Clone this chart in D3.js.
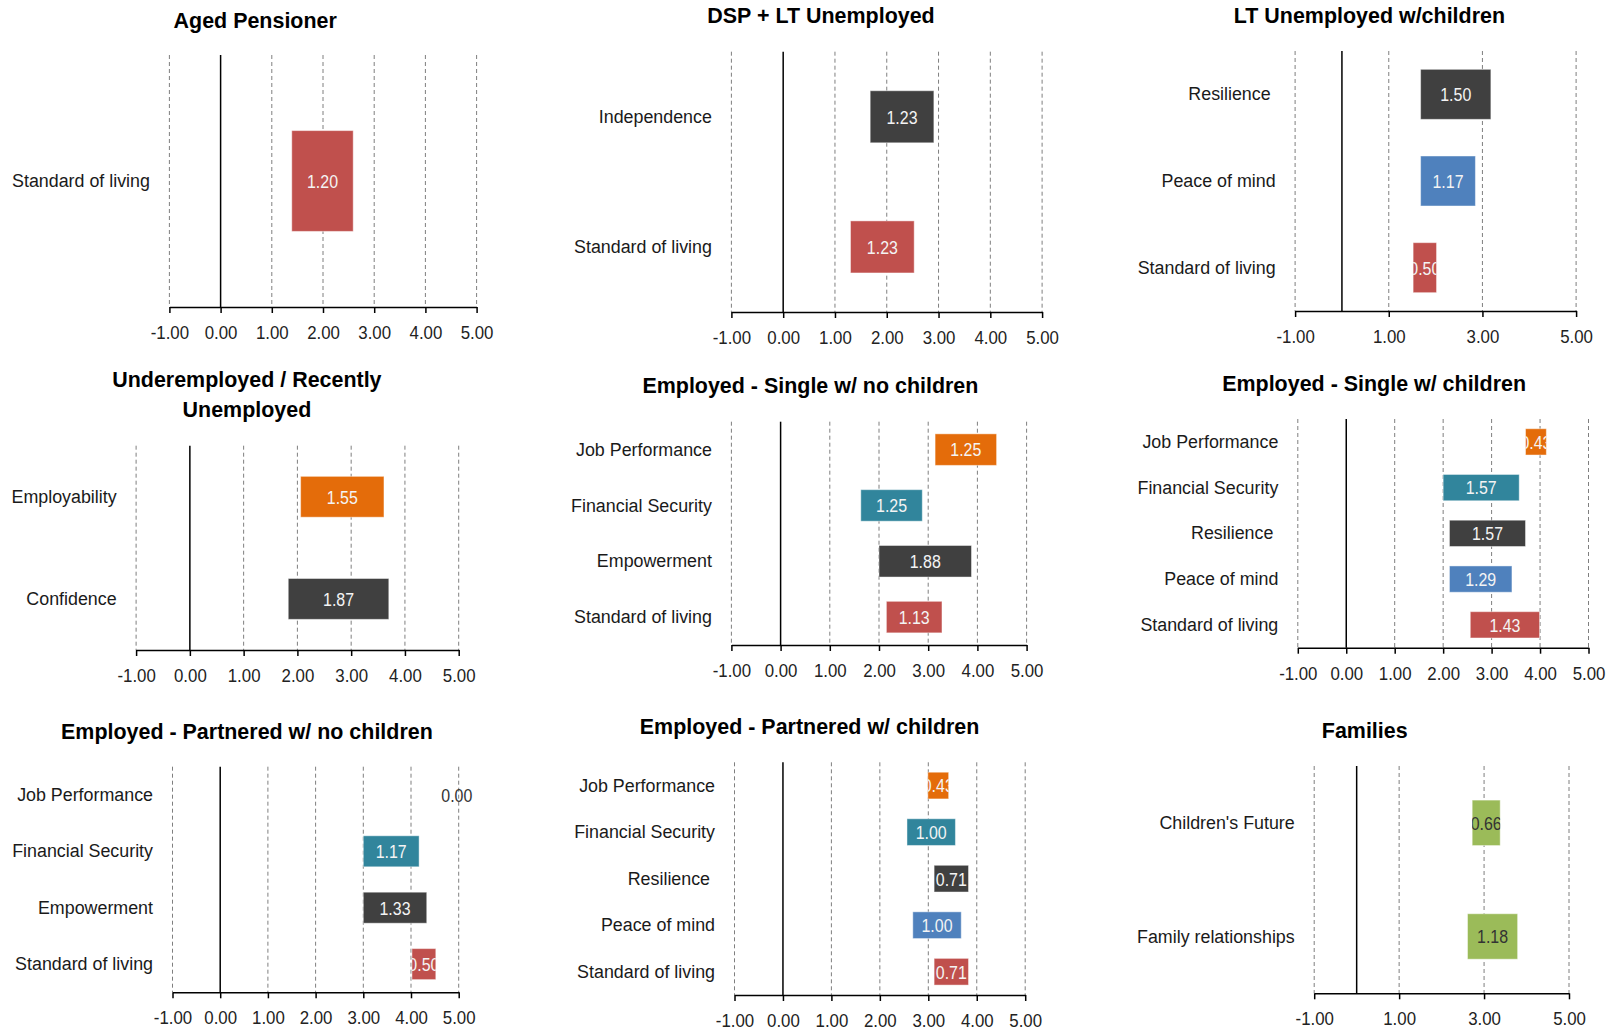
<!DOCTYPE html>
<html>
<head>
<meta charset="utf-8">
<script src="https://cdn.jsdelivr.net/npm/d3@7"></script>
<style>
  html, body { margin: 0; padding: 0; background: #ffffff; }
  svg text { font-family: "Liberation Sans", Arial, sans-serif; }
  .cat-axis text { white-space: pre; }
</style>
</head>
<body>
<svg id="chart" width="1607" height="1031"></svg>
<script>
// ---- Data -------------------------------------------------------------
const panelTitles = [
  ["Aged Pensioner"],
  ["DSP + LT Unemployed"],
  ["LT Unemployed w/children"],
  ["Underemployed / Recently", "Unemployed"],
  ["Employed - Single w/ no children"],
  ["Employed - Single w/ children"],
  ["Employed - Partnered w/ no children"],
  ["Employed - Partnered w/ children"],
  ["Families"]
];

const panelCategories = [
  ["Standard of living"],
  ["Independence", "Standard of living"],
  ["Resilience ", "Peace of mind", "Standard of living"],
  ["Employability", "Confidence"],
  ["Job Performance", "Financial Security", "Empowerment", "Standard of living"],
  ["Job Performance", "Financial Security", "Resilience ", "Peace of mind", "Standard of living"],
  ["Job Performance", "Financial Security", "Empowerment", "Standard of living"],
  ["Job Performance", "Financial Security", "Resilience ", "Peace of mind", "Standard of living"],
  ["Children's Future", "Family relationships"]
];

// where each floating bar begins on the value axis
const barStarts = [
  [1.39],
  [1.68, 1.30],
  [1.68, 1.68, 1.52],
  [2.06, 1.83],
  [3.14, 1.63, 2.00, 2.15],
  [3.70, 2.00, 2.13, 2.13, 2.56],
  [4.96, 3.00, 3.00, 4.02],
  [2.99, 2.56, 3.12, 2.68, 3.12],
  [2.72, 2.61]
];

// bar lengths (the printed values)
const barValues = [
  [1.20],
  [1.23, 1.23],
  [1.50, 1.17, 0.50],
  [1.55, 1.87],
  [1.25, 1.25, 1.88, 1.13],
  [0.43, 1.57, 1.57, 1.29, 1.43],
  [0.00, 1.17, 1.33, 0.50],
  [0.43, 1.00, 0.71, 1.00, 0.71],
  [0.66, 1.18]
];

const tickSets = [
  [-1, 0, 1, 2, 3, 4, 5],
  [-1, 0, 1, 2, 3, 4, 5],
  [-1, 1, 3, 5],
  [-1, 0, 1, 2, 3, 4, 5],
  [-1, 0, 1, 2, 3, 4, 5],
  [-1, 0, 1, 2, 3, 4, 5],
  [-1, 0, 1, 2, 3, 4, 5],
  [-1, 0, 1, 2, 3, 4, 5],
  [-1, 1, 3, 5]
];

// ---- Styling ----------------------------------------------------------
const categoryColours = {
  "Standard of living": "#C0504D",
  "Independence": "#404040",
  "Resilience ": "#404040",
  "Confidence": "#404040",
  "Empowerment": "#404040",
  "Peace of mind": "#4F81BD",
  "Employability": "#E46C0A",
  "Job Performance": "#E46C0A",
  "Financial Security": "#31859C",
  "Children's Future": "#9BBB59",
  "Family relationships": "#9BBB59"
};
const darkLabelCategories = new Set(["Children's Future", "Family relationships"]);

// text is set tall and narrowed horizontally (size in px, horizontal squeeze)
const TXT = {
  title: { size: 22.0, sx: 0.975 },
  cat:   { size: 19.0, sx: 0.94 },
  tick:  { size: 18.5, sx: 0.91 },
  value: { size: 19.0, sx: 0.84 }
};

// panel geometry: value-axis pixel span, plot top/bottom, bar fill of band, title anchor
const layout = [
  { x0: 169.4,  x1: 476.6,  top: 55.0,  bottom: 307.0, fill: 0.40,  tx: 255.2,  ty: [28.0] },
  { x0: 731.4,  x1: 1042.1, top: 51.7,  bottom: 312.0, fill: 0.40,  tx: 821.0,  ty: [23.3] },
  { x0: 1295.1, x1: 1576.1, top: 51.0,  bottom: 311.0, fill: 0.577, tx: 1369.4, ty: [23.3] },
  { x0: 136.1,  x1: 458.7,  top: 445.7, bottom: 650.0, fill: 0.40,  tx: 246.9,  ty: [387.3, 416.7] },
  { x0: 731.4,  x1: 1026.6, top: 421.7, bottom: 645.0, fill: 0.565, tx: 810.4,  ty: [393.3] },
  { x0: 1297.8, x1: 1588.5, top: 419.0, bottom: 647.7, fill: 0.575, tx: 1374.1, ty: [390.7] },
  { x0: 172.5,  x1: 458.7,  top: 766.7, bottom: 992.3, fill: 0.55,  tx: 246.9,  ty: [739.3] },
  { x0: 734.5,  x1: 1025.2, top: 762.3, bottom: 995.0, fill: 0.574, tx: 809.6,  ty: [734.3] },
  { x0: 1314.2, x1: 1569.0, top: 766.0, bottom: 993.3, fill: 0.40,  tx: 1364.7, ty: [737.7] }
];
const catLabelGap = 19.5;

// ---- Drawing ----------------------------------------------------------
const svg = d3.select("#chart");
const defs = svg.append("defs");
const fmt = d3.formatLocale({ decimal: ".", thousands: ",", grouping: [3], currency: ["$", ""], minus: "-" }).format(".2f");

panelTitles.forEach((title, i) => {
  const L = layout[i];
  const cats = panelCategories[i];
  const g = svg.append("g").attr("class", "panel");

  const x = d3.scaleLinear().domain([-1, 5]).range([L.x0, L.x1]);
  const pad = 1 - L.fill;
  const y = d3.scaleBand().domain(cats).range([L.top, L.bottom])
    .paddingInner(pad).paddingOuter(pad / 2);

  // title
  title.forEach((line, k) => {
    g.append("g")
      .attr("transform", `translate(${L.tx},${L.ty[k]})`)
      .append("text")
      .attr("transform", `scale(${TXT.title.sx},1)`)
      .attr("text-anchor", "middle")
      .attr("font-size", TXT.title.size + "px")
      .attr("font-weight", "bold")
      .attr("fill", "#000")
      .text(line);
  });

  // dashed vertical gridlines
  g.append("g").selectAll("line")
    .data(tickSets[i].filter(v => v !== 0))
    .join("line")
    .attr("x1", d => x(d)).attr("x2", d => x(d))
    .attr("y1", L.top).attr("y2", L.bottom)
    .attr("stroke", "#7f7f7f")
    .attr("stroke-width", 1)
    .attr("stroke-dasharray", "4,3");

  // zero reference line
  g.append("line")
    .attr("x1", x(0)).attr("x2", x(0))
    .attr("y1", L.top).attr("y2", L.bottom)
    .attr("stroke", "#000")
    .attr("stroke-width", 1.5);

  const rows = cats.map((c, k) => ({
    cat: c, start: barStarts[i][k], value: barValues[i][k], id: `clip-${i}-${k}`
  }));

  // clip regions so printed values stay inside their bars
  rows.filter(r => r.value > 0).forEach(r => {
    defs.append("clipPath").attr("id", r.id)
      .append("rect")
      .attr("x", x(r.start)).attr("y", y(r.cat))
      .attr("width", x(r.start + r.value) - x(r.start))
      .attr("height", y.bandwidth());
  });

  // floating bars
  g.append("g").selectAll("rect")
    .data(rows.filter(r => r.value > 0))
    .join("rect")
    .attr("x", d => x(d.start))
    .attr("y", d => y(d.cat))
    .attr("width", d => x(d.start + d.value) - x(d.start))
    .attr("height", y.bandwidth())
    .attr("fill", d => categoryColours[d.cat])
    .attr("stroke", "rgba(255,255,255,0.45)")
    .attr("stroke-width", 1);

  // value labels
  const vl = g.append("g").selectAll("g")
    .data(rows)
    .join("g")
    .attr("clip-path", d => d.value > 0 ? `url(#${d.id})` : null)
    .append("g")
    .attr("transform", d => `translate(${x(d.start + d.value / 2)},${y(d.cat) + y.bandwidth() / 2})`);
  vl.append("text")
    .attr("transform", `scale(${TXT.value.sx},1)`)
    .attr("dy", "0.36em")
    .attr("text-anchor", "middle")
    .attr("font-size", TXT.value.size + "px")
    .attr("fill", d => (d.value === 0 || darkLabelCategories.has(d.cat)) ? "#333333" : "#f4f4f4")
    .text(d => fmt(d.value));

  // value axis
  const xAxis = g.append("g")
    .attr("transform", `translate(0,${L.bottom})`)
    .attr("color", "#000")
    .call(d3.axisBottom(x).tickValues(tickSets[i]).tickFormat(fmt)
      .tickSize(6).tickSizeOuter(0).tickPadding(13));
  xAxis.select(".domain").attr("stroke-width", 1.5);
  xAxis.selectAll(".tick line").attr("stroke-width", 1.5);
  xAxis.selectAll(".tick text")
    .attr("transform", `scale(${TXT.tick.sx},1)`)
    .attr("font-size", TXT.tick.size + "px")
    .attr("font-family", null)
    .attr("fill", "#222");

  // category axis
  const yAxis = g.append("g")
    .attr("class", "cat-axis")
    .attr("transform", `translate(${L.x0},0)`)
    .call(d3.axisLeft(y).tickSize(0).tickPadding(catLabelGap));
  yAxis.select(".domain").remove();
  yAxis.selectAll(".tick text")
    .attr("x", -catLabelGap / TXT.cat.sx)
    .attr("transform", `scale(${TXT.cat.sx},1)`)
    .attr("font-size", TXT.cat.size + "px")
    .attr("font-family", null)
    .attr("fill", "#1a1a1a");
});
</script>
</body>
</html>
